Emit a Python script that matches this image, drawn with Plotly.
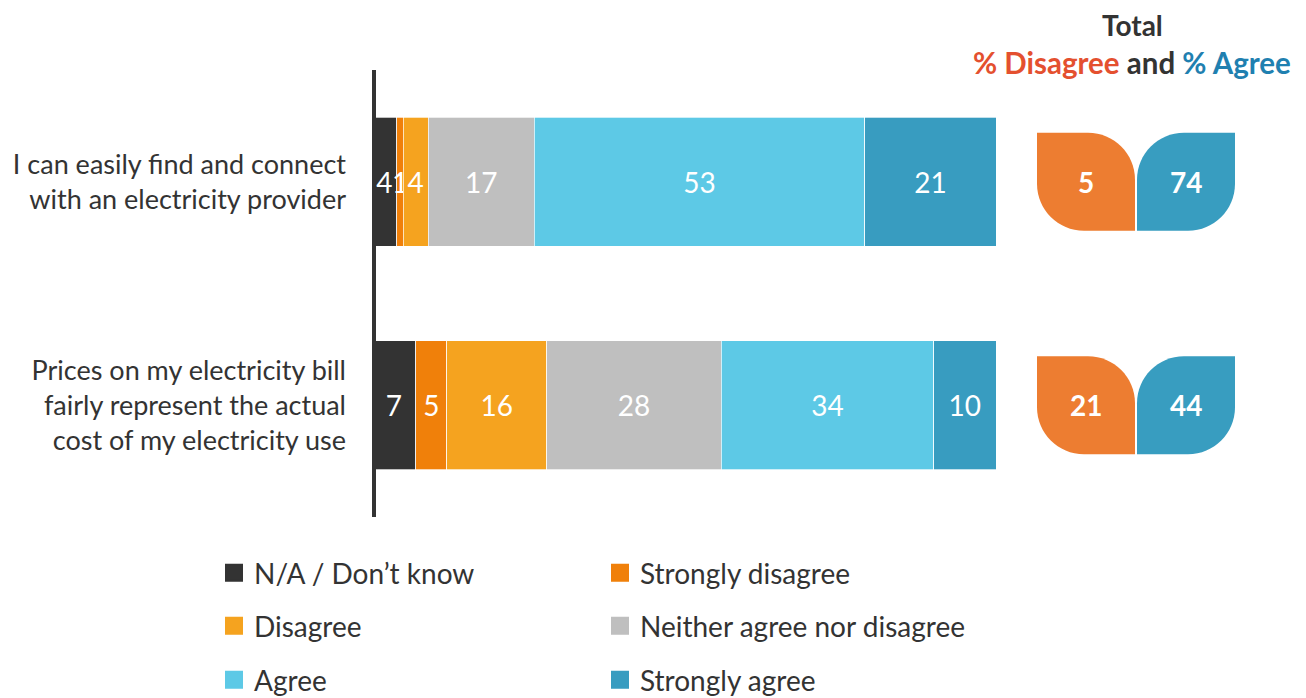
import plotly.graph_objects as go

# ---- data ----
categories = [
    "I can easily find and connect<br>with an electricity provider",
    "Prices on my electricity bill<br>fairly represent the actual<br>cost of my electricity use",
]
series_names = ["N/A / Don\u2019t know", "Strongly disagree", "Disagree",
                "Neither agree nor disagree", "Agree", "Strongly agree"]
na_dont_know = [4, 7]
strongly_disagree = [1, 5]
disagree = [4, 16]
neither = [17, 28]
agree = [53, 34]
strongly_agree = [21, 10]
series_values = [na_dont_know, strongly_disagree, disagree, neither, agree, strongly_agree]
series_colors = ["#333333", "#F0800A", "#F5A31F", "#BFBFBF", "#5DC9E6", "#389CC0"]

total_disagree = [a + b for a, b in zip(strongly_disagree, disagree)]
total_agree = [a + b for a, b in zip(agree, strongly_agree)]

FONT = "Lato"
TXT = "#333333"

fig = go.Figure()

for name, vals, col in zip(series_names, series_values, series_colors):
    fig.add_trace(go.Bar(
        y=categories, x=vals, orientation="h", name=name,
        marker=dict(color=col, line=dict(color="white", width=0.7)),
        text=vals, texttemplate="%{x}", textposition="inside",
        insidetextanchor="middle", constraintext="none",
        textfont=dict(family=FONT, size=28, color="white"),
        showlegend=False, hoverinfo="skip",
    ))

# legend entries (three rows of two)
legend_ids = ["legend", "legend", "legend2", "legend2", "legend3", "legend3"]
for name, col, lid in zip(series_names, series_colors, legend_ids):
    fig.add_trace(go.Scatter(
        x=[None], y=[None], mode="markers", name=name,
        marker=dict(symbol="square", size=16, color=col, line=dict(color=col, width=2)),
        legend=lid, showlegend=True, hoverinfo="skip",
    ))

# page body margin offset (the html page adds 8px around the figure)
OFF = 8
FW, FH = 1306 - OFF, 698 - OFF
L, W = 372, 624          # plot left / width in reference px
PT, PH = 70, 447         # plot top / height in reference px


def px2paper(px):
    return (px - L) / W


def py2paper(py):
    return 1 - (py - PT) / PH


shapes = []
# vertical axis bar
shapes.append(dict(type="line", xref="x", yref="paper", x0=0, x1=0, y0=0, y1=1,
                   line=dict(color="#333333", width=8), layer="above"))

# leaf shapes
H = 49
r = 47
k = 0.5523 * r


def orange_path():
    Lx, Rx, T, B = -99, -1, H, -H
    return (f"M{Lx},{T} H{Rx - r} C{Rx - r + k},{T} {Rx},{T - r + k} {Rx},{T - r} "
            f"V{B} H{Lx + r} C{Lx + r - k},{B} {Lx},{B + r - k} {Lx},{B + r} Z")


def blue_path():
    Lx, Rx, T, B = 1, 99, H, -H
    return (f"M{Lx},{B} V{T - r} C{Lx},{T - r + k} {Lx + r - k},{T} {Lx + r},{T} "
            f"H{Rx} V{B + r} C{Rx},{B + r - k} {Rx - r + k},{B} {Rx - r},{B} Z")


anchor_x = px2paper(1136)
annotations = []
for i in range(len(categories)):
    shapes.append(dict(type="path", xref="paper", yref="y", xsizemode="pixel", ysizemode="pixel",
                       xanchor=anchor_x, yanchor=i, path=orange_path(),
                       fillcolor="#ED7D31", line=dict(width=0)))
    shapes.append(dict(type="path", xref="paper", yref="y", xsizemode="pixel", ysizemode="pixel",
                       xanchor=anchor_x, yanchor=i, path=blue_path(),
                       fillcolor="#389DC0", line=dict(width=0)))
    annotations.append(dict(xref="paper", yref="y", x=px2paper(1086), y=i,
                            xanchor="center", yanchor="middle",
                            text=f"<b>{total_disagree[i]}</b>", showarrow=False,
                            font=dict(family=FONT, size=28, color="white")))
    annotations.append(dict(xref="paper", yref="y", x=px2paper(1186), y=i,
                            xanchor="center", yanchor="middle",
                            text=f"<b>{total_agree[i]}</b>", showarrow=False,
                            font=dict(family=FONT, size=28, color="white")))

annotations.append(dict(xref="paper", yref="paper", x=px2paper(1132), y=py2paper(25),
                        text="<b>Total</b>", showarrow=False, xanchor="center", yanchor="middle",
                        font=dict(family=FONT, size=28, color=TXT)))
annotations.append(dict(xref="paper", yref="paper", x=px2paper(1132), y=py2paper(63),
                        text="<b><span style='color:#E4502F'>% Disagree</span> and "
                             "<span style='color:#1F80B0'>% Agree</span></b>",
                        showarrow=False, xanchor="center", yanchor="middle",
                        font=dict(family=FONT, size=29.5, color=TXT)))

leg_common = dict(orientation="h", xanchor="left", yanchor="middle",
                  entrywidth=341, entrywidthmode="pixels", traceorder="normal",
                  font=dict(family=FONT, size=28, color=TXT),
                  bgcolor="rgba(0,0,0,0)", borderwidth=0, itemclick=False)
lx = px2paper(214)

fig.update_layout(
    width=FW, height=FH,
    margin=dict(l=L - OFF, r=1306 - L - W, t=PT - OFF, b=698 - PT - PH, autoexpand=False),
    barmode="stack", bargap=0.425,
    plot_bgcolor="white", paper_bgcolor="white",
    xaxis=dict(range=[0, 100], visible=False, fixedrange=True),
    yaxis=dict(type="category", categoryarray=categories, range=[1.5, -0.5],
               showgrid=False, zeroline=False, showline=False, ticks="",
               ticklabelstandoff=25,
               tickfont=dict(family=FONT, size=27, color=TXT), fixedrange=True),
    shapes=shapes, annotations=annotations,
    legend=dict(x=lx, y=py2paper(573), **leg_common),
    legend2=dict(x=lx, y=py2paper(626), **leg_common),
    legend3=dict(x=lx, y=py2paper(680), **leg_common),
    showlegend=True,
    font=dict(family=FONT, color=TXT),
)

fig.write_html("out.html")
